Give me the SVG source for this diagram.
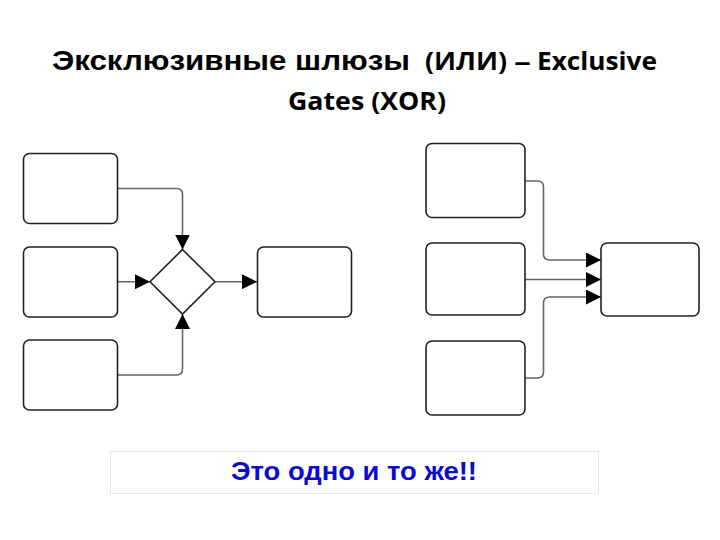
<svg xmlns="http://www.w3.org/2000/svg" width="720" height="540" viewBox="0 0 720 540">
<style>
.box{fill:#fff;stroke:#222;stroke-width:1.6}
.con{fill:none;stroke:#666;stroke-width:1.6}
.ttl{font-family:"Liberation Sans",Arial,sans-serif;font-weight:bold;fill:#000}
.eng{font-family:"Open Sans","Liberation Sans",sans-serif;font-weight:bold;fill:#000}
</style>
<defs>
<marker id="ah" viewBox="0 0 10 10" refX="10" refY="5" markerWidth="15" markerHeight="15" markerUnits="userSpaceOnUse" orient="auto">
<path d="M0,0 L10,5 L0,10 Z" fill="#000"/>
</marker>
</defs>
<rect width="720" height="540" fill="#fff"/>
<g id="title">
<text class="ttl" x="52" y="69.5" font-size="28" textLength="358" lengthAdjust="spacingAndGlyphs">Эксклюзивные шлюзы</text>
<text class="eng" x="425" y="69.5" font-size="24.5" textLength="82" lengthAdjust="spacingAndGlyphs">(ИЛИ)</text>
<text class="eng" x="514" y="69.5" font-size="24.5" textLength="17" lengthAdjust="spacingAndGlyphs">–</text>
<text class="eng" x="537" y="69.5" font-size="24.5" textLength="120" lengthAdjust="spacingAndGlyphs">Exclusive</text>
<text class="eng" x="288" y="109.5" font-size="24.5" textLength="158" lengthAdjust="spacingAndGlyphs">Gates (XOR)</text>
</g>

<g id="connectors">
<path class="con" d="M117,188.5 H176.5 Q182.5,188.5 182.5,194.5 V249.5" marker-end="url(#ah)"/>
<path class="con" d="M117,281.7 H150" marker-end="url(#ah)"/>
<path class="con" d="M117,375 H176.5 Q182.5,375 182.5,369 V314" marker-end="url(#ah)"/>
<path class="con" d="M215,281.7 H257" marker-end="url(#ah)"/>
<path class="con" d="M525,181 H537.5 Q543.5,181 543.5,187 V254 Q543.5,260 549.5,260 H601" marker-end="url(#ah)"/>
<path class="con" d="M525,279.5 H601" marker-end="url(#ah)"/>
<path class="con" d="M525,378 H537.5 Q543.5,378 543.5,372 V303 Q543.5,297 549.5,297 H601" marker-end="url(#ah)"/>
</g>

<g id="L1"><rect class="box" x="23.5" y="153.5" width="94" height="70" rx="6"/></g>
<g id="L2"><rect class="box" x="23.5" y="247" width="94" height="70" rx="6"/></g>
<g id="L3"><rect class="box" x="23.5" y="340" width="94" height="70" rx="6"/></g>
<g id="gate"><path class="box" d="M182.5,249.5 L215,281.7 L182.5,314 L150,281.7 Z"/></g>
<g id="LOut"><rect class="box" x="257.5" y="247" width="94" height="70" rx="6"/></g>

<g id="R1"><rect class="box" x="426" y="143.5" width="99" height="74" rx="6"/></g>
<g id="R2"><rect class="box" x="426" y="243" width="99" height="72" rx="6"/></g>
<g id="R3"><rect class="box" x="426" y="341" width="99" height="74" rx="6"/></g>
<g id="ROut"><rect class="box" x="601" y="243" width="98" height="73" rx="6"/></g>

<g id="note">
<rect x="110.5" y="451.5" width="488" height="42" fill="#fff" stroke="#e6e6e6" stroke-width="1"/>
<text x="231" y="480" font-family="Liberation Sans,Arial,sans-serif" font-weight="bold" font-size="26" fill="#0a0ad0" textLength="246" lengthAdjust="spacingAndGlyphs">Это одно и то же!!</text>
</g>
</svg>
